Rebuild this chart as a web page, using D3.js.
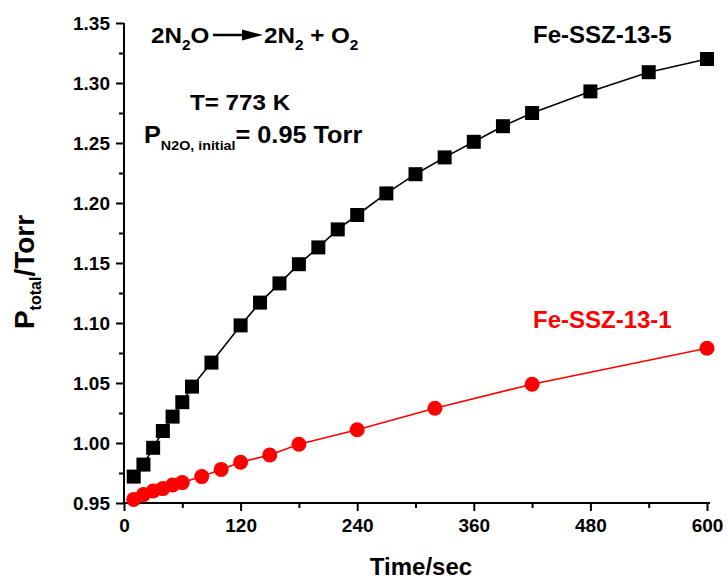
<!DOCTYPE html>
<html>
<head>
<meta charset="utf-8">
<script src="https://cdn.jsdelivr.net/npm/d3@7/dist/d3.min.js"></script>
<style>
  html, body { margin: 0; padding: 0; background: #fff; }
  svg { display: block; }
  text { font-family: "Liberation Sans", Arial, Helvetica, sans-serif; font-weight: bold; }
</style>
</head>
<body>
<script>
// Fe-SSZ-13-5 (black squares): time (s) and total pressure (Torr)
const timeFe5 = [10, 20, 30, 40, 50, 60, 70, 90, 120, 140, 160, 180, 200, 220, 240, 270, 300, 330, 360, 390, 420, 480, 540, 600];
const pressureFe5 = [0.972, 0.982, 0.996, 1.010, 1.022, 1.034, 1.047, 1.067, 1.098, 1.117, 1.133, 1.149, 1.163, 1.178, 1.190, 1.208, 1.224, 1.238, 1.251, 1.264, 1.275, 1.293, 1.309, 1.320];

// Fe-SSZ-13-1 (red circles)
const timeFe1 = [10, 20, 30, 40, 50, 60, 80, 100, 120, 150, 180, 240, 320, 420, 600];
const pressureFe1 = [0.953, 0.957, 0.960, 0.962, 0.965, 0.967, 0.972, 0.978, 0.984, 0.990, 0.999, 1.011, 1.029, 1.049, 1.079];

// Axis ticks
const xMajorTicks = [0, 120, 240, 360, 480, 600];
const xMinorTicks = [60, 180, 300, 420, 540];
const yMajorTicks = [0.95, 1.00, 1.05, 1.10, 1.15, 1.20, 1.25, 1.30, 1.35];
const yMinorTicks = [0.975, 1.025, 1.075, 1.125, 1.175, 1.225, 1.275, 1.325];

const W = 727, H = 580;
const svg = d3.select("body").append("svg").attr("width", W).attr("height", H);
svg.append("rect").attr("width", W).attr("height", H).attr("fill", "#fff");

const x = d3.scaleLinear().domain([0, 600]).range([124, 707]);
const y = d3.scaleLinear().domain([0.95, 1.35]).range([503, 23]);

// ---- axes ----
function styleAxis(g) {
  g.selectAll("path.domain").attr("stroke", "#000").attr("stroke-width", 2);
  g.selectAll(".tick line").attr("stroke", "#000").attr("stroke-width", 2);
  g.selectAll(".tick text").attr("fill", "#000").attr("font-size", 19)
    .attr("font-family", "'Liberation Sans', Arial, sans-serif").attr("font-weight", "bold");
}

const xAxisG = svg.append("g").attr("transform", `translate(0,${y(0.95)})`);
xAxisG.call(d3.axisBottom(x).tickValues(xMajorTicks).tickSize(8).tickSizeOuter(0)
  .tickPadding(8).tickFormat(d3.format("d")));
xAxisG.select("path.domain").attr("d", `M${x(0)},0H${x(600) + 3}`);
styleAxis(xAxisG);
const xMinorG = svg.append("g").attr("transform", `translate(0,${y(0.95)})`);
xMinorG.call(d3.axisBottom(x).tickValues(xMinorTicks).tickSize(5).tickFormat(""));
xMinorG.select("path.domain").remove();
styleAxis(xMinorG);

const yAxisG = svg.append("g").attr("transform", `translate(${x(0)},0)`);
yAxisG.call(d3.axisLeft(y).tickValues(yMajorTicks).tickSize(8).tickSizeOuter(0)
  .tickPadding(6).tickFormat(d3.format(".2f")));
yAxisG.select("path.domain").attr("d", `M0,${y(0.95)}V${y(1.35)}`);
styleAxis(yAxisG);
const yMinorG = svg.append("g").attr("transform", `translate(${x(0)},0)`);
yMinorG.call(d3.axisLeft(y).tickValues(yMinorTicks).tickSize(5).tickFormat(""));
yMinorG.select("path.domain").remove();
styleAxis(yMinorG);

// ---- axis titles ----
svg.append("text").attr("x", 421).attr("y", 575).attr("text-anchor", "middle")
  .attr("font-size", 24).text("Time/sec");

const yTitle = svg.append("text")
  .attr("transform", `translate(34,${272}) rotate(-90)`)
  .attr("text-anchor", "middle").attr("font-size", 28);
yTitle.append("tspan").text("P");
yTitle.append("tspan").attr("font-size", 16).attr("dy", 7).text("total");
yTitle.append("tspan").attr("dy", -7).text("/Torr");

// ---- series ----
const dataFe5 = timeFe5.map((t, i) => ({ t, p: pressureFe5[i] }));
const dataFe1 = timeFe1.map((t, i) => ({ t, p: pressureFe1[i] }));
const line = d3.line().x(d => x(d.t)).y(d => y(d.p));

svg.append("path").datum(dataFe1).attr("d", line)
  .attr("fill", "none").attr("stroke", "#ff0000").attr("stroke-width", 1.6);
svg.append("g").selectAll("circle").data(dataFe1).join("circle")
  .attr("cx", d => x(d.t)).attr("cy", d => y(d.p)).attr("r", 7.5)
  .attr("fill", "#ff0000");

svg.append("path").datum(dataFe5).attr("d", line)
  .attr("fill", "none").attr("stroke", "#000").attr("stroke-width", 1.6);
const sq = 14;
svg.append("g").selectAll("rect").data(dataFe5).join("rect")
  .attr("x", d => x(d.t) - sq / 2).attr("y", d => y(d.p) - sq / 2)
  .attr("width", sq).attr("height", sq).attr("fill", "#000");

// ---- series labels ----
svg.append("text").attr("x", 533).attr("y", 43).attr("font-size", 24)
  .attr("fill", "#000").text("Fe-SSZ-13-5");
svg.append("text").attr("x", 533).attr("y", 328).attr("font-size", 24)
  .attr("fill", "#ff0000").text("Fe-SSZ-13-1");

// ---- reaction and conditions ----
const sx = 1.1;
function note(px, py, size) {
  return svg.append("text").attr("transform", `translate(${px},${py}) scale(${sx},1)`)
    .attr("font-size", size);
}
const r1 = note(151, 43, 22);
r1.append("tspan").text("2N");
r1.append("tspan").attr("font-size", 14).attr("dy", 7).text("2");
r1.append("tspan").attr("dy", -7).text("O");

// reaction arrow
svg.append("line").attr("x1", 213).attr("x2", 246).attr("y1", 35).attr("y2", 35)
  .attr("stroke", "#000").attr("stroke-width", 2.5);
svg.append("path").attr("d", "M242,29.5L263,35L242,40.5Z").attr("fill", "#000");

const r2 = note(264, 43, 22);
r2.append("tspan").text("2N");
r2.append("tspan").attr("font-size", 14).attr("dy", 7).text("2");
r2.append("tspan").attr("dy", -7).text(" + O");
r2.append("tspan").attr("font-size", 14).attr("dy", 7).text("2");

note(190, 110, 22).text("T= 773 K");

const pl = note(144, 143, 23);
pl.append("tspan").text("P");
pl.append("tspan").attr("font-size", 13).attr("dy", 7).text("N2O, initial");
pl.append("tspan").attr("dy", -7).text("= 0.95 Torr");
</script>
</body>
</html>
